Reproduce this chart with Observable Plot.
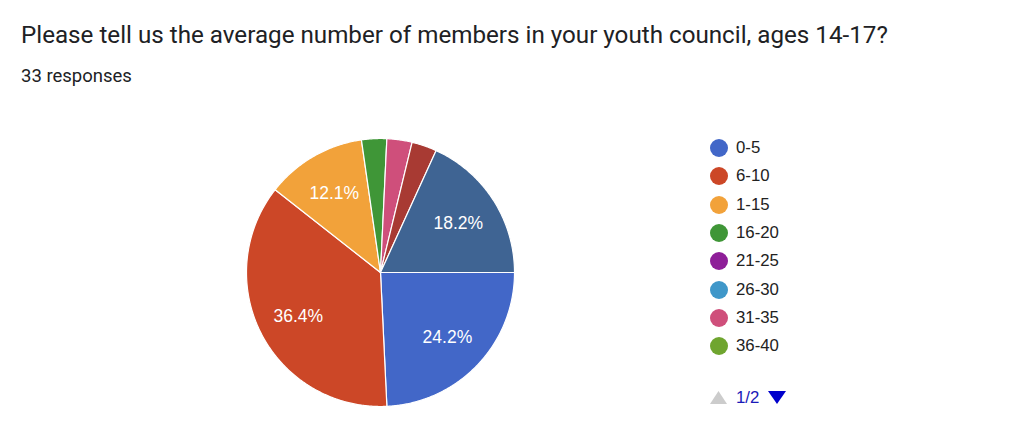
<!DOCTYPE html>
<html>
<head>
<meta charset="utf-8">
<script src="https://cdn.jsdelivr.net/npm/d3@7"></script>
<script src="https://cdn.jsdelivr.net/npm/@observablehq/plot@0.6"></script>
<style>
  html, body { margin: 0; padding: 0; background: #fff; }
  #wrap { position: relative; width: 1024px; height: 443px; overflow: hidden; background: #fff; }
  #title { position: absolute; left: 21px; top: 0px; font-family: Roboto, "Noto Sans", sans-serif; font-size: 20px; line-height: 1; color: #202124; white-space: nowrap; }
  #subtitle { position: absolute; left: 21px; top: 0px; font-family: Roboto, "Noto Sans", sans-serif; font-size: 16px; line-height: 1; color: #202124; white-space: nowrap; }
  #chart { position: absolute; left: 0; top: 100px; }
  .leg { position: absolute; left: 710px; height: 18px; font-family: "Liberation Sans", Arial, sans-serif; font-size: 16.8px; color: #222; white-space: nowrap; }
  .leg .sw { position: absolute; left: 0; top: 0; width: 18px; height: 18px; border-radius: 50%; }
  .leg .lb { position: absolute; left: 26px; top: 0; line-height: 18px; }
  #pager { position: absolute; left: 710px; top: 389px; font-family: "Liberation Sans", Arial, sans-serif; font-size: 16.8px; color: #1a1ab8; }
</style>
</head>
<body>
<div id="wrap">
  <div id="title"></div>
  <div id="subtitle"></div>
  <div id="chart"></div>
  <div id="legend"></div>
  <div id="pager"></div>
</div>
<script>
// ---- data ----
const titleText = "Please tell us the average number of members in your youth council, ages 14-17?";
const subtitleText = "33 responses";
const categories = ["0-5", "6-10", "1-15", "16-20", "21-25", "26-30", "31-35", "36-40", "41-45", "46-50"];
const counts = [8, 12, 4, 1, 0, 0, 1, 0, 1, 6];
const colors = ["#4267c8", "#cc4727", "#f2a23a", "#3f9637", "#8e1e98", "#3f97c9", "#cf4f7b", "#6fa52f", "#a83a33", "#3f6493"];
const legendShown = 8; // page 1 of 2
const pageLabel = "1/2";

// ---- title / subtitle, fitted to measured widths ----
function placeText(el, text, baseline, targetWidth) {
  el.textContent = text;
  const base = parseFloat(getComputedStyle(el).fontSize);
  const w = el.getBoundingClientRect().width;
  const fs = base * targetWidth / w;
  el.style.fontSize = fs + "px";
  const c = document.createElement("canvas").getContext("2d");
  c.font = fs + "px " + getComputedStyle(el).fontFamily;
  const m = c.measureText(text);
  const asc = m.fontBoundingBoxAscent, desc = m.fontBoundingBoxDescent;
  const half = (fs - (asc + desc)) / 2;
  el.style.top = (baseline - (half + asc)) + "px";
}
placeText(document.getElementById("title"), titleText, 43, 867);
placeText(document.getElementById("subtitle"), subtitleText, 82, 111);

// ---- pie slices as polygons (angles from east, clockwise on screen) ----
const total = d3.sum(counts);
let cum = 0;
const slices = categories.map((c, i) => {
  const a0 = 2 * Math.PI * cum / total;
  cum += counts[i];
  const a1 = 2 * Math.PI * cum / total;
  return {category: c, count: counts[i], a0, a1};
}).filter(d => d.count > 0);

const features = slices.map(d => {
  const n = Math.max(2, Math.ceil((d.a1 - d.a0) / (Math.PI / 360)));
  const ring = [[0, 0]];
  for (let k = 0; k <= n; ++k) {
    const t = d.a0 + (d.a1 - d.a0) * k / n;
    ring.push([Math.cos(t), Math.sin(t)]);
  }
  ring.push([0, 0]);
  return {type: "Feature", properties: {category: d.category}, geometry: {type: "Polygon", coordinates: [ring]}};
});
const domain = {type: "FeatureCollection", features};

const fmt = d3.format(".1%");
const labels = slices.filter(d => d.count / total > 0.05).map(d => {
  const m = (d.a0 + d.a1) / 2;
  return {x: 0.69 * Math.cos(m), y: 0.69 * Math.sin(m) + 0.01, text: fmt(d.count / total)};
});

const plot = Plot.plot({
  width: 1024,
  height: 343,
  marginLeft: 246,
  marginRight: 510,
  marginTop: 38,
  marginBottom: 37,
  projection: {type: "identity", domain, clip: false},
  color: {domain: categories, range: colors},
  marks: [
    Plot.geo(features, {fill: d => d.properties.category, stroke: "white", strokeWidth: 1.2}),
    Plot.text(labels, {x: "x", y: "y", text: "text", fill: "white", fontSize: 17.5,
      fontFamily: "'Liberation Sans', Arial, sans-serif"})
  ]
});
document.getElementById("chart").appendChild(plot);

// ---- legend ----
const legend = document.getElementById("legend");
categories.slice(0, legendShown).forEach((c, i) => {
  const row = document.createElement("div");
  row.className = "leg";
  row.style.top = (148 + i * 28.3 - 9) + "px";
  const sw = document.createElement("div");
  sw.className = "sw";
  sw.style.background = colors[i];
  const lb = document.createElement("div");
  lb.className = "lb";
  lb.textContent = c;
  row.appendChild(sw); row.appendChild(lb);
  legend.appendChild(row);
});

// ---- pager ----
const pager = document.getElementById("pager");
pager.innerHTML =
  '<svg width="80" height="20" style="position:absolute;left:0;top:0;overflow:visible">' +
  '<polygon points="0,15 17,15 8.5,2" fill="#cccccc"/>' +
  '<polygon points="58,2 76,2 67,15" fill="#0000cc"/>' +
  '</svg><span style="position:absolute;left:26px;top:0;line-height:18px;">' + pageLabel + '</span>';
</script>
</body>
</html>
